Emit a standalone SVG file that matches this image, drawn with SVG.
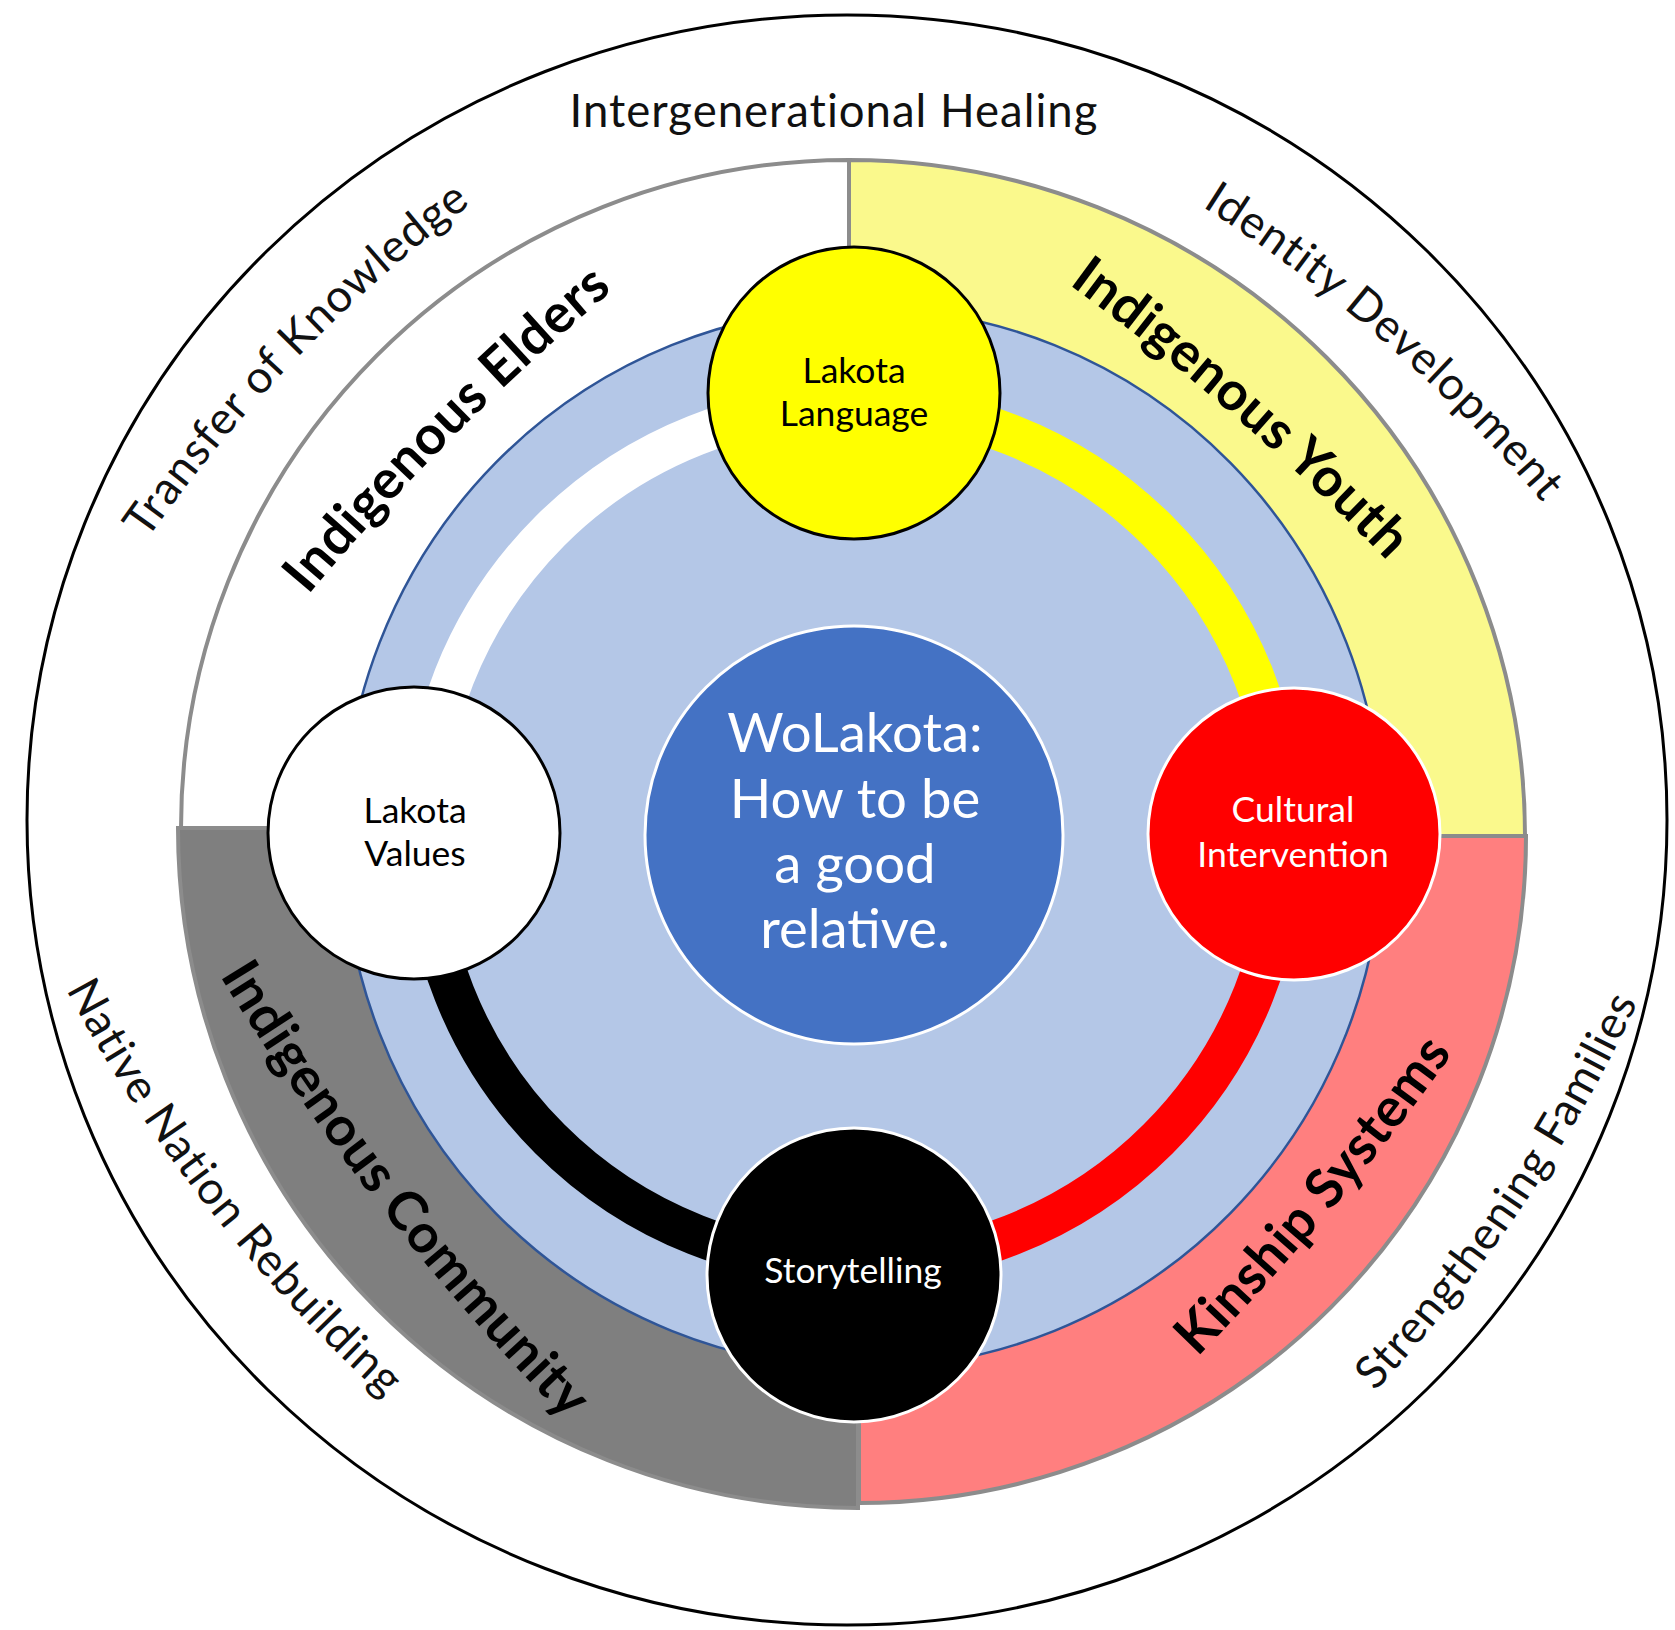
<svg xmlns="http://www.w3.org/2000/svg" width="1675" height="1630" viewBox="0 0 1675 1630">
<style>
.outer{font-family:Lato,"Liberation Sans",sans-serif;font-size:45.5px;letter-spacing:1px;fill:#111}
.bold{font-family:Lato,"Liberation Sans",sans-serif;font-size:54px;letter-spacing:0.5px;font-weight:bold;fill:#000}
.node{font-family:Lato,"Liberation Sans",sans-serif;font-size:35.5px;text-anchor:middle}
.center{font-family:Lato,"Liberation Sans",sans-serif;font-size:54.5px;text-anchor:middle;fill:#fff}
.quad{stroke:#8C8C8C;stroke-width:4}
.ring{fill:none;stroke-width:41}
</style>
<defs>
<path id="arcTopA" d="M -490.8,82.6 A1500,1500 0 0 1 490.8,82.6"/>
<path id="arcBotA" d="M -490.8,-82.6 A1500,1500 0 0 0 490.8,-82.6"/>
<path id="arcTopB" d="M -496.7,49.8 A2500,2500 0 0 1 496.7,49.8"/>
<path id="arcBotB" d="M -496.7,-49.8 A2500,2500 0 0 0 496.7,-49.8"/>
</defs>
<rect width="1675" height="1630" fill="#fff"/>
<g id="outer-ring">
<ellipse cx="847" cy="820" rx="820" ry="805" fill="none" stroke="#000" stroke-width="3"/>
</g>
<g id="quadrants">
<path id="q-community" class="quad" fill="#7F7F7F" stroke="#7F7F7F" d="M858,828 L858,1508 A680,680 0 0 1 178,828 Z"/>
<path id="q-kinship" class="quad" fill="#FF7F7F" d="M859,836 L1526,836 A667,667 0 0 1 859,1503 Z"/>
<path id="q-elders" class="quad" fill="#FFFFFF" d="M849,828 L181,828 A668,668 0 0 1 849,160 Z"/>
<path id="q-youth" class="quad" fill="#FAF98C" d="M849,836 L849,160 A676,676 0 0 1 1525,836 Z"/>
</g>
<g id="disc">
<ellipse cx="863" cy="838" rx="520" ry="530" fill="#B4C7E7" stroke="#2F5597" stroke-width="2.5"/>
</g>
<g id="connectors">
<path class="ring" stroke="#FFFFFF" d="M424,835 A430,430 0 0 1 854,405"/>
<path class="ring" stroke="#FFFF00" d="M854,405 A430,430 0 0 1 1284,835"/>
<path class="ring" stroke="#FF0000" d="M1284,835 A430,430 0 0 1 854,1265"/>
<path class="ring" stroke="#000000" d="M854,1265 A430,430 0 0 1 424,835"/>
</g>
<g id="node-center">
<circle cx="854" cy="835" r="209" fill="#4472C4" stroke="#fff" stroke-width="3"/>
<text class="center" x="855" y="752">WoLakota:</text>
<text class="center" x="855" y="818">How to be</text>
<text class="center" x="855" y="883">a good</text>
<text class="center" x="855" y="948">relative.</text>
</g>
<g id="node-language">
<circle cx="854" cy="393" r="146" fill="#FFFF00" stroke="#000" stroke-width="3"/>
<text class="node" x="854" y="383" fill="#000">Lakota</text>
<text class="node" x="854" y="426" fill="#000">Language</text>
</g>
<g id="node-values">
<circle cx="414" cy="833" r="146" fill="#FFFFFF" stroke="#000" stroke-width="3"/>
<text class="node" x="415" y="823" fill="#000">Lakota</text>
<text class="node" x="415" y="866" fill="#000">Values</text>
</g>
<g id="node-intervention">
<circle cx="1294" cy="834" r="146" fill="#FF0000" stroke="#fff" stroke-width="3"/>
<text class="node" x="1293" y="822" fill="#fff">Cultural</text>
<text class="node" x="1293" y="867" fill="#fff">Intervention</text>
</g>
<g id="node-storytelling">
<circle cx="854" cy="1275" r="147" fill="#000000" stroke="#fff" stroke-width="3"/>
<text class="node" x="853" y="1283" fill="#fff">Storytelling</text>
</g>
<g id="labels">
<text class="outer" x="834" y="127" text-anchor="middle">Intergenerational Healing</text>
<text class="outer" transform="translate(296,359) rotate(-46)"><textPath href="#arcTopA" startOffset="50%" text-anchor="middle">Transfer of Knowledge</textPath></text>
<text class="outer" transform="translate(1384,342) rotate(41)"><textPath href="#arcTopA" startOffset="50%" text-anchor="middle">Identity Development</textPath></text>
<text class="outer" transform="translate(208,1208) rotate(52)"><textPath href="#arcBotA" startOffset="50%" text-anchor="middle">Native Nation Rebuilding</textPath></text>
<text class="outer" transform="translate(1522,1207) rotate(-56)"><textPath href="#arcBotA" startOffset="50%" text-anchor="middle">Strengthening Families</textPath></text>
<text class="bold" transform="translate(454,436) rotate(-45)"><textPath href="#arcTopB" startOffset="50%" text-anchor="middle">Indigenous Elders</textPath></text>
<text class="bold" transform="translate(1234,416) rotate(41)"><textPath href="#arcTopB" startOffset="50%" text-anchor="middle">Indigenous Youth</textPath></text>
<text class="bold" transform="translate(381,1208) rotate(52)"><textPath href="#arcBotB" startOffset="50%" text-anchor="middle">Indigenous Community</textPath></text>
<text class="bold" transform="translate(1331,1210) rotate(-50)"><textPath href="#arcBotB" startOffset="50%" text-anchor="middle">Kinship Systems</textPath></text>
</g>
</svg>
